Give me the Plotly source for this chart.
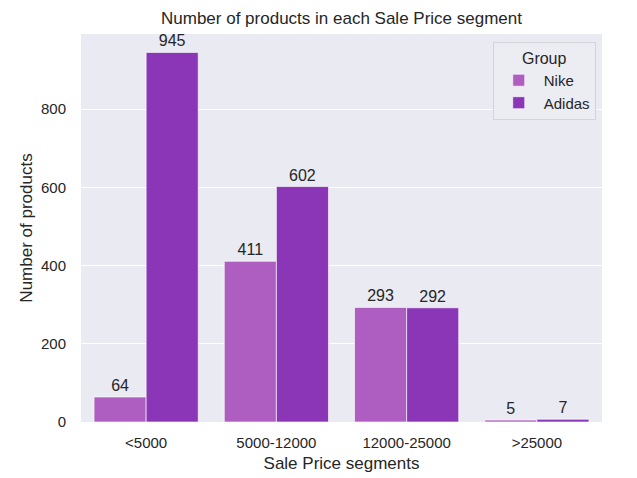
# Number of products in each Sale Price segment - Nike vs Adidas
import plotly.graph_objects as go

# DATA
# ----------------------------------------------------------------------------------------------------
segments = ['<5000', '5000-12000', '12000-25000', '>25000']
nike_counts = [64, 411, 293, 5]
adidas_counts = [945, 602, 292, 7]

font_family = 'Liberation Sans, Arial, sans-serif'
text_color = '#262626'

# DATA VISUALIZATION
# ----------------------------------------------------------------------------------------------------
fig = go.Figure()

fig.add_trace(go.Bar(
    x=segments, y=nike_counts, name='Nike',
    marker={'color': '#AE5EC0', 'line': {'color': 'rgba(255,255,255,0.8)', 'width': 0.8}},
    text=nike_counts, textposition='outside', cliponaxis=False,
    textfont={'size': 16, 'color': text_color}
))

fig.add_trace(go.Bar(
    x=segments, y=adidas_counts, name='Adidas',
    marker={'color': '#8A36B6', 'line': {'color': 'rgba(255,255,255,0.8)', 'width': 0.8}},
    text=adidas_counts, textposition='outside', cliponaxis=False,
    textfont={'size': 16, 'color': text_color}
))

fig.update_layout(
    width=637, height=478,
    margin={'l': 73, 'r': 43, 't': 26, 'b': 64},
    paper_bgcolor='white',
    plot_bgcolor='#EAEAF2',
    barmode='group', bargap=0.2, bargroupgap=0,
    font={'family': font_family, 'color': text_color, 'size': 15},
    title={'text': 'Number of products in each Sale Price segment',
           'xref': 'paper', 'x': 0.5, 'xanchor': 'center',
           'y': 0.979, 'yanchor': 'middle',
           'font': {'size': 17, 'color': text_color}},
    legend={'title': {'text': 'Group', 'side': 'top center', 'font': {'size': 16}},
            'x': 0.988, 'xanchor': 'right', 'y': 0.979, 'yanchor': 'top',
            'bgcolor': 'rgba(236,236,243,0.9)', 'bordercolor': '#D3D3DC', 'borderwidth': 1,
            'font': {'size': 15}, 'itemwidth': 40, 'tracegroupgap': 0},
    showlegend=True
)

fig.update_xaxes(
    title={'text': 'Sale Price segments', 'font': {'size': 17}, 'standoff': 7},
    showgrid=False, zeroline=False,
    ticks='outside', ticklen=7, tickcolor='rgba(0,0,0,0)',
    tickfont={'size': 15}
)

fig.update_yaxes(
    title={'text': 'Number of products', 'font': {'size': 17}, 'standoff': 4},
    range=[0, 992], tickvals=[0, 200, 400, 600, 800],
    showgrid=True, gridcolor='white', gridwidth=1, zeroline=False,
    ticks='outside', ticklen=11, tickcolor='rgba(0,0,0,0)',
    tickfont={'size': 15}
)

fig.write_html('out.html')
